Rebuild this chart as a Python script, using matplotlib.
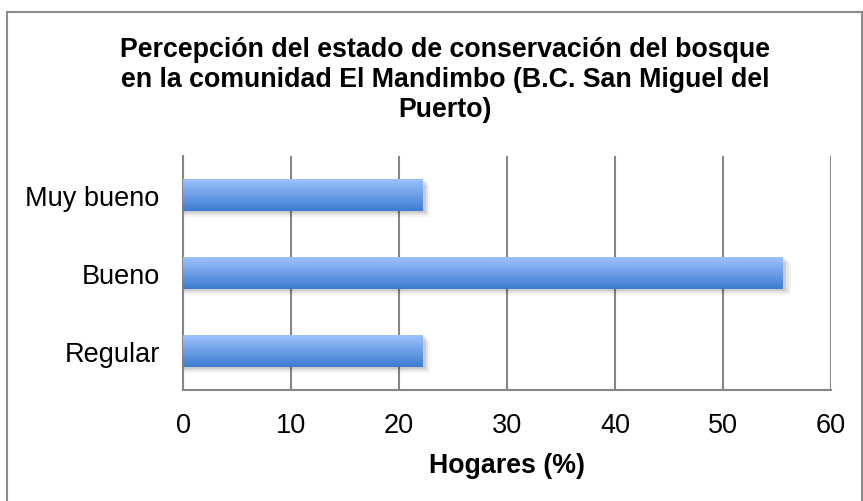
import numpy as np
import matplotlib.pyplot as plt
from matplotlib.patches import Rectangle
from matplotlib.colors import LinearSegmentedColormap

# datos
categorias = ['Regular', 'Bueno', 'Muy bueno']
hogares_pct = [22.2, 55.6, 22.2]
ticks_x = [0, 10, 20, 30, 40, 50, 60]

titulo = ('Percepción del estado de conservación del bosque\n'
          'en la comunidad El Mandimbo (B.C. San Miguel del\nPuerto)')

plt.rcParams['font.family'] = ['Liberation Sans', 'DejaVu Sans']

fig = plt.figure(figsize=(8.63, 5.02), dpi=100)
ax = fig.add_axes([0.2124, 0.2217, 0.7502, 0.4656])

# marco del grafico
fig.patches.append(Rectangle((7 / 863, -0.05), 855 / 863, 1 - 13 / 502 + 0.05,
                             transform=fig.transFigure, fill=False,
                             edgecolor='#8c8c8c', lw=1.5))

y = np.arange(len(categorias))
alto = 0.41
barras = ax.barh(y, hogares_pct, height=alto, color='none', zorder=3)

grad = LinearSegmentedColormap.from_list('azul', ['#3d7ccf', '#9cc2ff'])
g = np.linspace(0, 1, 100).reshape(-1, 1)
for b in barras:
    x0, y0 = b.get_x(), b.get_y()
    w, h = b.get_width(), b.get_height()
    # sombra
    for k, a in enumerate([0.10, 0.07, 0.04]):
        ax.add_patch(Rectangle((x0 + 0.1, y0 - 0.03 - 0.025 * k), w + 0.2 * (k + 1), h,
                               color='black', alpha=a, lw=0, zorder=2))
    ax.imshow(g, cmap=grad, aspect='auto', origin='lower',
              extent=(x0, x0 + w, y0, y0 + h), zorder=4)

ax.set_xlim(0, 60)
ax.set_ylim(-0.5, len(categorias) - 0.5)
ax.set_xticks(ticks_x)
ax.set_yticks(y)
ax.set_yticklabels(categorias)
ax.tick_params(length=0, labelsize=19.5)
ax.tick_params(axis='x', pad=16)
ax.tick_params(axis='y', pad=17)
ax.xaxis.grid(True, color='#868686', lw=1.5, zorder=1)
ax.set_axisbelow(True)
for s in ['top', 'right']:
    ax.spines[s].set_visible(False)
for s in ['left', 'bottom']:
    ax.spines[s].set_color('#868686')
    ax.spines[s].set_linewidth(1.5)
ax.set_xlabel('Hogares (%)', fontsize=19.3, fontweight='bold', labelpad=10)

fig.text(0.516, 1 - 80 / 502, titulo, ha='center', va='center',
         fontsize=19.3, fontweight='bold', linespacing=1.2)

fig.savefig('out.png', dpi=100)
